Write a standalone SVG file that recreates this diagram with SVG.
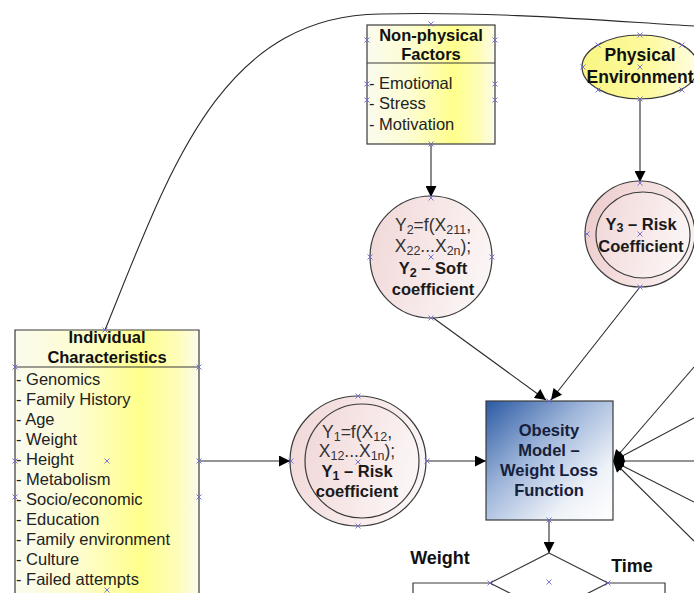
<svg xmlns="http://www.w3.org/2000/svg" xmlns:xlink="http://www.w3.org/1999/xlink" width="694" height="593" viewBox="0 0 694 593">
  <defs>
    <linearGradient id="gYellowBox" x1="0" y1="0" x2="1" y2="0">
      <stop offset="0" stop-color="#fbfbef"/>
      <stop offset="0.35" stop-color="#fdfdcf"/>
      <stop offset="0.68" stop-color="#ffff8c"/>
      <stop offset="0.88" stop-color="#fefdb8"/>
      <stop offset="1" stop-color="#fbfbec"/>
    </linearGradient>
    <linearGradient id="gYellowOval" x1="0" y1="0" x2="1" y2="0">
      <stop offset="0" stop-color="#f9f584"/>
      <stop offset="0.55" stop-color="#fdfa9c"/>
      <stop offset="1" stop-color="#fffde2"/>
    </linearGradient>
    <linearGradient id="gPink" x1="0" y1="0" x2="1" y2="0.3">
      <stop offset="0" stop-color="#f0d6d6"/>
      <stop offset="0.5" stop-color="#f6e5e5"/>
      <stop offset="1" stop-color="#fbf4f4"/>
    </linearGradient>
    <linearGradient id="gPinkDeep" x1="0" y1="0" x2="1" y2="0.3">
      <stop offset="0" stop-color="#ecc9c9"/>
      <stop offset="0.5" stop-color="#f3dcdc"/>
      <stop offset="1" stop-color="#f9eeee"/>
    </linearGradient>
    <linearGradient id="gBlue" x1="0" y1="0" x2="1" y2="1">
      <stop offset="0" stop-color="#2b5aa3"/>
      <stop offset="0.4" stop-color="#9fb6da"/>
      <stop offset="0.75" stop-color="#eef2f8"/>
      <stop offset="1" stop-color="#ffffff"/>
    </linearGradient>
    <marker id="arrow" viewBox="0 0 10 10" refX="10" refY="5" markerWidth="12" markerHeight="11" markerUnits="userSpaceOnUse" orient="auto">
      <path d="M0,0 L10,5 L0,10 z" fill="#000"/>
    </marker>
    <symbol id="cp" viewBox="-3 -3 6 6" width="6" height="6" overflow="visible">
      <path d="M-2.5,-2.5 L2.5,2.5 M-2.5,2.5 L2.5,-2.5" stroke="#6a6ad2" stroke-width="0.9"/>
    </symbol>
    <style>
      .box { stroke: #3a3a3a; stroke-width: 1.2; }
      .conn { fill: none; stroke: #2a2a2a; stroke-width: 1.1; }
      .arr { marker-end: url(#arrow); }
      .hdr { font-family: "Liberation Sans", Arial, sans-serif; font-weight: bold; font-size: 16.5px; fill: #111; text-anchor: middle; }
      .item { font-family: "Liberation Sans", Arial, sans-serif; font-size: 16.5px; fill: #222; }
      .bold { font-family: "Liberation Sans", Arial, sans-serif; font-weight: bold; font-size: 16.5px; fill: #1a1a1a; text-anchor: middle; }
      .formula { font-family: "Liberation Sans", Arial, sans-serif; font-size: 17.5px; fill: #333; text-anchor: middle; }
      .sub { font-size: 12.5px; }
      .model { fill: #15203c; }
      .label { font-family: "Liberation Sans", Arial, sans-serif; font-weight: bold; font-size: 18px; fill: #111; text-anchor: middle; }
    </style>
  </defs>

  <rect width="694" height="593" fill="#ffffff"/>

  <!-- connectors -->
  <g id="connectors">
    <path class="conn" d="M105,330 C170,170 220,16 380,14 C500,11 620,22 694,26"/>
    <line class="conn arr" x1="431" y1="144" x2="431" y2="197"/>
    <line class="conn arr" x1="640" y1="99" x2="640" y2="182"/>
    <line class="conn arr" x1="432" y1="317" x2="546" y2="400"/>
    <line class="conn arr" x1="640" y1="287" x2="551" y2="400"/>
    <line class="conn arr" x1="199" y1="461" x2="290" y2="461"/>
    <line class="conn arr" x1="427" y1="461" x2="486" y2="461"/>
    <line class="conn arr" x1="694" y1="367" x2="613" y2="461"/>
    <line class="conn arr" x1="694" y1="418" x2="613" y2="461"/>
    <line class="conn arr" x1="694" y1="461" x2="613" y2="461"/>
    <line class="conn arr" x1="694" y1="502" x2="613" y2="461"/>
    <line class="conn arr" x1="694" y1="541" x2="613" y2="461"/>
    <line class="conn arr" x1="549" y1="520" x2="549" y2="553"/>
  </g>

  <!-- Non-physical factors -->
  <g id="non-physical">
    <rect class="box" x="367" y="25" width="128" height="119" fill="url(#gYellowBox)"/>
    <line class="box" x1="367" y1="63" x2="495" y2="63"/>
    <text class="hdr" x="431" y="41">Non-physical</text>
    <text class="hdr" x="431" y="60">Factors</text>
    <text class="item" x="369" y="89">- Emotional</text>
    <text class="item" x="369" y="109">- Stress</text>
    <text class="item" x="369" y="130">- Motivation</text>
  </g>

  <!-- Physical environment -->
  <g id="physical">
    <ellipse class="box" cx="640" cy="67" rx="58" ry="32" fill="url(#gYellowOval)"/>
    <text class="hdr" x="640" y="61" style="font-size:17.5px">Physical</text>
    <text class="hdr" x="640" y="83" style="font-size:17.5px">Environment</text>
  </g>

  <!-- Y3 risk coefficient -->
  <g id="y3">
    <ellipse class="box" cx="640" cy="234" rx="55" ry="53" fill="url(#gPinkDeep)" stroke-width="1"/>
    <ellipse class="box" cx="643" cy="235" rx="47" ry="43" fill="url(#gPink)" stroke-width="1"/>
    <text class="bold" x="641" y="230">Y<tspan class="sub" dy="2">3</tspan><tspan dy="-2"> – Risk</tspan></text>
    <text class="bold" x="641" y="252">Coefficient</text>
  </g>

  <!-- Y2 soft coefficient -->
  <g id="y2">
    <ellipse class="box" cx="431" cy="257" rx="61" ry="61" fill="url(#gPink)" stroke-width="1"/>
    <text class="formula" x="433" y="231">Y<tspan class="sub" dy="3">2</tspan><tspan dy="-3">=f(X</tspan><tspan class="sub" dy="3">211</tspan><tspan dy="-3">,</tspan></text>
    <text class="formula" x="433" y="252">X<tspan class="sub" dy="3">22</tspan><tspan dy="-3">...X</tspan><tspan class="sub" dy="3">2n</tspan><tspan dy="-3">);</tspan></text>
    <text class="bold" x="433" y="274">Y<tspan class="sub" dy="3">2</tspan><tspan dy="-3"> – Soft</tspan></text>
    <text class="bold" x="433" y="295">coefficient</text>
  </g>

  <!-- Individual characteristics -->
  <g id="individual">
    <path class="box" d="M15,600 V330 H199 V600" fill="url(#gYellowBox)"/>
    <line class="box" x1="15" y1="367" x2="199" y2="367"/>
    <text class="hdr" x="107" y="343">Individual</text>
    <text class="hdr" x="107" y="363">Characteristics</text>
    <text class="item" x="16" y="385">- Genomics</text>
    <text class="item" x="16" y="405">- Family History</text>
    <text class="item" x="16" y="425">- Age</text>
    <text class="item" x="16" y="445">- Weight</text>
    <text class="item" x="16" y="465">- Height</text>
    <text class="item" x="16" y="485">- Metabolism</text>
    <text class="item" x="16" y="505">- Socio/economic</text>
    <text class="item" x="16" y="525">- Education</text>
    <text class="item" x="16" y="545">- Family environment</text>
    <text class="item" x="16" y="565">- Culture</text>
    <text class="item" x="16" y="585">- Failed attempts</text>
  </g>

  <!-- Y1 risk coefficient -->
  <g id="y1">
    <ellipse class="box" cx="358" cy="461" rx="68" ry="65" fill="url(#gPink)" stroke-width="1"/>
    <ellipse class="box" cx="362" cy="461" rx="57" ry="57" fill="url(#gPink)" stroke-width="1"/>
    <text class="formula" x="357" y="438">Y<tspan class="sub" dy="3">1</tspan><tspan dy="-3">=f(X</tspan><tspan class="sub" dy="3">12</tspan><tspan dy="-3">,</tspan></text>
    <text class="formula" x="357" y="457">X<tspan class="sub" dy="3">12</tspan><tspan dy="-3">...X</tspan><tspan class="sub" dy="3">1n</tspan><tspan dy="-3">);</tspan></text>
    <text class="bold" x="357" y="477">Y<tspan class="sub" dy="3">1</tspan><tspan dy="-3"> – Risk</tspan></text>
    <text class="bold" x="357" y="497">coefficient</text>
  </g>

  <!-- Obesity model -->
  <g id="obesity-model">
    <rect class="box" x="486" y="401" width="127" height="119" fill="url(#gBlue)"/>
    <text class="bold model" x="549" y="436">Obesity</text>
    <text class="bold model" x="549" y="456">Model –</text>
    <text class="bold model" x="549" y="476">Weight Loss</text>
    <text class="bold model" x="549" y="496">Function</text>
  </g>

  <!-- Outcome split -->
  <g id="outcome">
    <path class="box" d="M413,600 V583 H665 V600" fill="none"/>
    <path class="box" d="M549,553 L608,583 L549,613 L490,583 z" fill="#ffffff"/>
    <text class="label" x="440" y="564">Weight</text>
    <text class="label" x="632" y="572">Time</text>
  </g>

  <!-- connection points -->
  <g id="connection-points">
    <use href="#cp" x="428" y="21"/><use href="#cp" x="364" y="37"/><use href="#cp" x="492" y="37"/>
    <use href="#cp" x="364" y="81"/><use href="#cp" x="492" y="81"/><use href="#cp" x="364" y="97"/>
    <use href="#cp" x="492" y="97"/><use href="#cp" x="428" y="80"/><use href="#cp" x="428" y="141"/>
    <use href="#cp" x="637" y="32"/><use href="#cp" x="637" y="64"/><use href="#cp" x="637" y="96"/>
    <use href="#cp" x="580" y="64"/><use href="#cp" x="595" y="42"/><use href="#cp" x="679" y="42"/>
    <use href="#cp" x="595" y="87"/><use href="#cp" x="679" y="87"/>
    <use href="#cp" x="637" y="180"/><use href="#cp" x="637" y="231"/><use href="#cp" x="637" y="284"/>
    <use href="#cp" x="584" y="231"/>
    <use href="#cp" x="428" y="195"/><use href="#cp" x="428" y="254"/><use href="#cp" x="428" y="315"/>
    <use href="#cp" x="367" y="254"/><use href="#cp" x="489" y="254"/>
    <use href="#cp" x="355" y="393"/><use href="#cp" x="355" y="459"/><use href="#cp" x="355" y="523"/>
    <use href="#cp" x="288" y="458"/><use href="#cp" x="424" y="458"/>
    <use href="#cp" x="102" y="327"/><use href="#cp" x="12" y="364"/><use href="#cp" x="196" y="364"/>
    <use href="#cp" x="12" y="458"/><use href="#cp" x="104" y="458"/><use href="#cp" x="196" y="458"/>
    <use href="#cp" x="12" y="494"/><use href="#cp" x="196" y="494"/><use href="#cp" x="104" y="587"/>
    <use href="#cp" x="546" y="398"/><use href="#cp" x="546" y="517"/>
    <use href="#cp" x="487" y="580"/><use href="#cp" x="605" y="580"/><use href="#cp" x="546" y="579"/>
  </g>
</svg>
